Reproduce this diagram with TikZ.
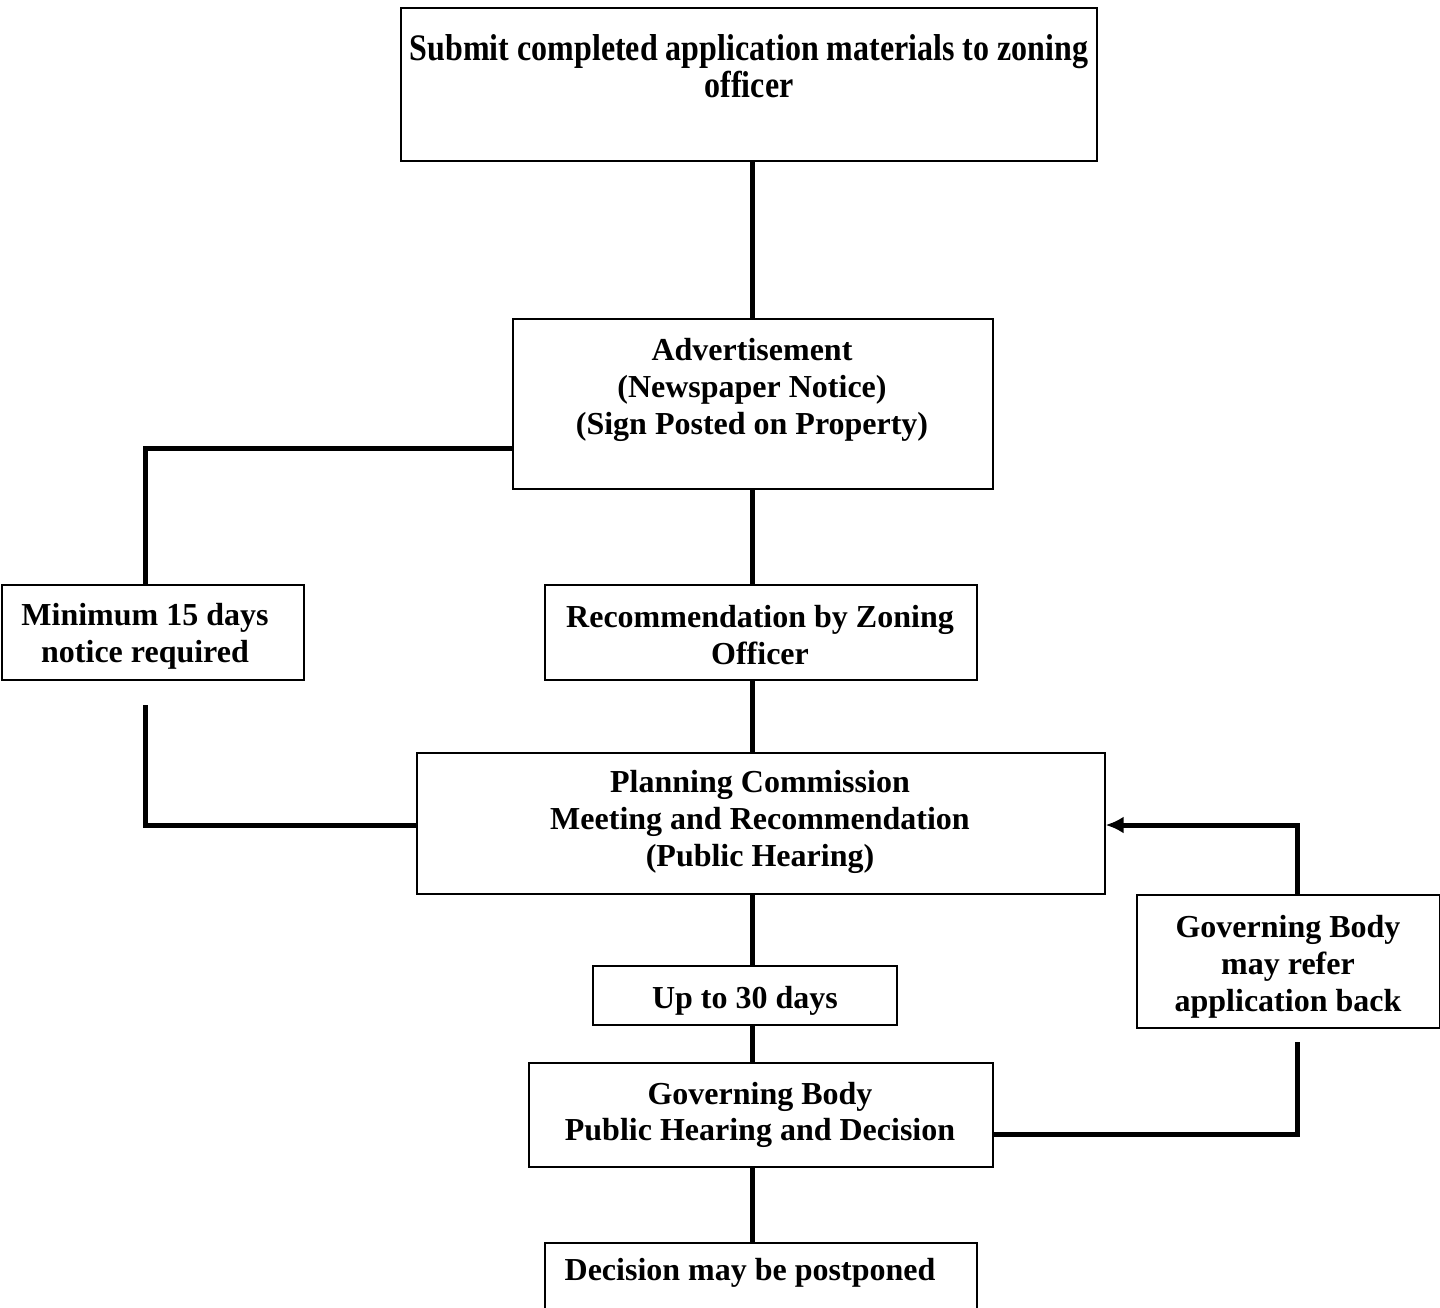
\documentclass[tikz,border=0pt]{standalone}
\usepackage{fontspec}
\setmainfont{Liberation Serif}
\usetikzlibrary{arrows.meta}
\begin{document}
\begin{tikzpicture}[x=1pt,y=-1pt,
  box/.style={draw,line width=1.6pt,inner sep=0pt,anchor=north west},
  txt/.style={inner sep=0pt,align=center,font=\fontsize{32}{36.8}\selectfont\bfseries},
  conn/.style={line width=5pt}]
\useasboundingbox (0,0) rectangle (1440,1308);
\clip (0,0) rectangle (1440,1308);
% boxes
\node[box,minimum width=696pt,minimum height=153pt] (b1) at (400,7) {};
\node[box,minimum width=480pt,minimum height=170pt] (b2) at (512,318) {};
\node[box,minimum width=302pt,minimum height=95pt] (b3) at (1,584) {};
\node[box,minimum width=432pt,minimum height=95pt] (b4) at (544,584) {};
\node[box,minimum width=688pt,minimum height=141pt] (b5) at (416,752) {};
\node[box,minimum width=304pt,minimum height=59pt] (b6) at (592,965) {};
\node[box,minimum width=303pt,minimum height=133pt] (b7) at (1136,894) {};
\node[box,minimum width=464pt,minimum height=104pt] (b8) at (528,1062) {};
\node[box,minimum width=432pt,minimum height=90pt] (b9) at (544,1242) {};
% texts
\node[txt,font=\fontsize{32}{37.5}\selectfont\bfseries] (t1) at (749,66) {\scalebox{1}[1.17]{Submit completed application materials to zoning}\\\scalebox{1}[1.17]{officer}};
\node[txt] (t2) at (752,390) {Advertisement\\(Newspaper Notice)\\(Sign Posted on Property)};
\node[txt] (t3) at (145,636) {Minimum 15 days\\notice required};
\node[txt] (t4) at (760,635) {Recommendation by Zoning\\Officer};
\node[txt] (t5) at (760,822) {Planning Commission\\Meeting and Recommendation\\(Public Hearing)};
\node[txt] (t6) at (745,1001) {Up to 30 days};
\node[txt] (t7) at (1288,967) {Governing Body\\may refer\\application back};
\node[txt] (t8) at (760,1115) {Governing Body\\Public Hearing and Decision};
\node[txt] (t9) at (750,1273) {Decision may be postponed};
% connectors
\coordinate (c1) at (145,705);
\coordinate (c2) at (1297,1042);
\draw[conn] (b1.south -| 752,0) -- (b2.north -| 752,0);
\draw[conn] (b2.south -| 752,0) -- (b4.north -| 752,0);
\draw[conn] (b4.south -| 752,0) -- (b5.north -| 752,0);
\draw[conn] (b5.south -| 752,0) -- (b6.north -| 752,0);
\draw[conn] (b6.south -| 752,0) -- (b8.north -| 752,0);
\draw[conn] (b8.south -| 752,0) -- (b9.north -| 752,0);
\draw[conn] (b2.west |- 0,448) -- (145,448) -- (b3.north -| 145,0);
\draw[conn] (c1) -- (145,825) -- (b5.west |- 0,825);
\draw[conn] (b8.east |- 0,1134) -- (1297,1134) -- (c2);
\draw[conn,-{Latex[length=18pt,width=17pt]}] (b7.north -| 1297,0) -- (1297,825) -- (b5.east |- 0,825);
\end{tikzpicture}
\end{document}
